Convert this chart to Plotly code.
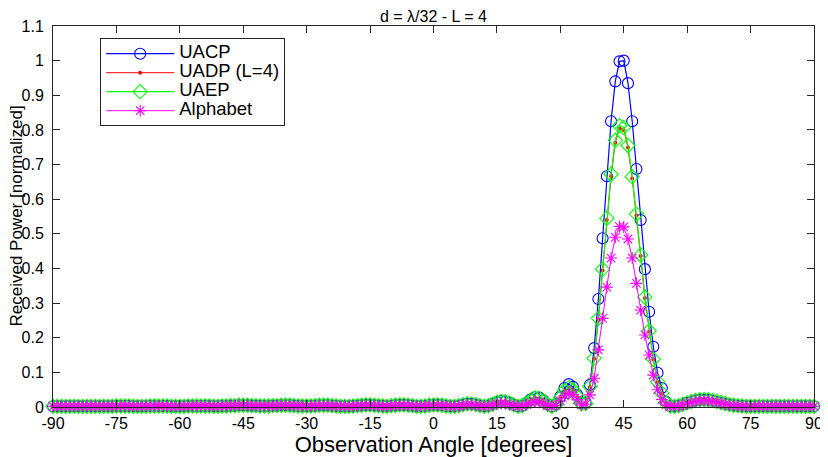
import plotly.graph_objects as go

angles = list(range(-90, 91))

uacp = [
    0.002, 0.002, 0.002, 0.002, 0.002, 0.002, 0.002, 0.002, 0.002, 0.002,  # -90..-81
    0.002, 0.002, 0.002, 0.002, 0.002, 0.003, 0.003, 0.003, 0.003, 0.002,  # -80..-71
    0.002, 0.002, 0.002, 0.003, 0.003, 0.003, 0.003, 0.003, 0.002, 0.002,  # -70..-61
    0.002, 0.002, 0.003, 0.003, 0.003, 0.003, 0.003, 0.003, 0.002, 0.002,  # -60..-51
    0.003, 0.003, 0.004, 0.004, 0.005, 0.005, 0.005, 0.004, 0.004, 0.003,  # -50..-41
    0.003, 0.003, 0.004, 0.004, 0.005, 0.005, 0.005, 0.004, 0.003, 0.003,  # -40..-31
    0.003, 0.003, 0.004, 0.005, 0.005, 0.005, 0.004, 0.003, 0.002, 0.002,  # -30..-21
    0.002, 0.003, 0.004, 0.005, 0.006, 0.006, 0.005, 0.004, 0.003, 0.002,  # -20..-11
    0.004, 0.005, 0.006, 0.006, 0.005, 0.004, 0.002, 0.002, 0.003, 0.005,  # -10..-1
    0.006, 0.006, 0.005, 0.003, 0.002, 0.002, 0.004, 0.007, 0.009, 0.009,  # 0..9
    0.007, 0.004, 0.002, 0.004, 0.009, 0.014, 0.017, 0.016, 0.012, 0.006,  # 10..19
    0.002, 0.004, 0.012, 0.022, 0.028, 0.027, 0.019, 0.008, 0.002, 0.008,  # 20..29
    0.030, 0.055, 0.066, 0.058, 0.035, 0.010, 0.012, 0.064, 0.170, 0.312,  # 30..39
    0.487, 0.666, 0.825, 0.940, 0.998, 1.000, 0.935, 0.825, 0.687, 0.540,  # 40..49
    0.398, 0.275, 0.174, 0.099, 0.055, 0.015, 0.003, 0.002, 0.004, 0.008,  # 50..59
    0.012, 0.016, 0.019, 0.021, 0.021, 0.020, 0.018, 0.015, 0.012, 0.009,  # 60..69
    0.007, 0.005, 0.004, 0.003, 0.002, 0.002, 0.002, 0.002, 0.002, 0.002,  # 70..79
    0.002, 0.002, 0.002, 0.002, 0.002, 0.002, 0.002, 0.002, 0.002, 0.002,  # 80..89
    0.002,                                                                 # 90
]

uadp = [
    0.002, 0.002, 0.002, 0.002, 0.002, 0.002, 0.002, 0.002, 0.002, 0.002,
    0.002, 0.002, 0.002, 0.002, 0.002, 0.003, 0.003, 0.003, 0.003, 0.002,
    0.002, 0.002, 0.002, 0.003, 0.003, 0.003, 0.003, 0.003, 0.002, 0.002,
    0.002, 0.002, 0.003, 0.003, 0.003, 0.003, 0.003, 0.003, 0.002, 0.002,
    0.003, 0.003, 0.004, 0.004, 0.005, 0.005, 0.005, 0.004, 0.004, 0.003,
    0.003, 0.003, 0.004, 0.004, 0.005, 0.005, 0.005, 0.004, 0.003, 0.003,
    0.003, 0.003, 0.004, 0.005, 0.005, 0.005, 0.004, 0.003, 0.002, 0.002,
    0.002, 0.003, 0.004, 0.005, 0.006, 0.006, 0.005, 0.004, 0.003, 0.002,
    0.004, 0.005, 0.006, 0.006, 0.005, 0.004, 0.002, 0.002, 0.003, 0.005,
    0.006, 0.006, 0.005, 0.003, 0.002, 0.002, 0.004, 0.007, 0.009, 0.009,
    0.007, 0.004, 0.002, 0.004, 0.008, 0.013, 0.016, 0.015, 0.011, 0.006,
    0.002, 0.004, 0.011, 0.020, 0.025, 0.024, 0.017, 0.007, 0.002, 0.007,
    0.026, 0.047, 0.055, 0.049, 0.029, 0.008, 0.010, 0.057, 0.139, 0.253,
    0.394, 0.540, 0.666, 0.763, 0.805, 0.800, 0.749, 0.660, 0.553, 0.436,
    0.315, 0.218, 0.137, 0.072, 0.039, 0.011, 0.003, 0.002, 0.004, 0.008,
    0.012, 0.016, 0.019, 0.021, 0.022, 0.021, 0.019, 0.016, 0.013, 0.010,
    0.007, 0.005, 0.004, 0.003, 0.002, 0.002, 0.002, 0.002, 0.002, 0.002,
    0.002, 0.002, 0.002, 0.002, 0.002, 0.002, 0.002, 0.002, 0.002, 0.002,
    0.002,
]

uaep = [
    0.002, 0.002, 0.002, 0.002, 0.002, 0.002, 0.002, 0.002, 0.002, 0.002,
    0.002, 0.002, 0.002, 0.002, 0.002, 0.003, 0.003, 0.003, 0.003, 0.002,
    0.002, 0.002, 0.002, 0.003, 0.003, 0.003, 0.003, 0.003, 0.002, 0.002,
    0.002, 0.002, 0.003, 0.003, 0.003, 0.003, 0.003, 0.003, 0.002, 0.002,
    0.003, 0.003, 0.004, 0.004, 0.005, 0.005, 0.005, 0.004, 0.004, 0.003,
    0.003, 0.003, 0.004, 0.004, 0.005, 0.005, 0.005, 0.004, 0.003, 0.003,
    0.003, 0.003, 0.004, 0.005, 0.005, 0.005, 0.004, 0.003, 0.002, 0.002,
    0.002, 0.003, 0.004, 0.005, 0.006, 0.006, 0.005, 0.004, 0.003, 0.002,
    0.004, 0.005, 0.006, 0.006, 0.005, 0.004, 0.002, 0.002, 0.003, 0.005,
    0.006, 0.006, 0.005, 0.003, 0.002, 0.002, 0.004, 0.007, 0.009, 0.009,
    0.007, 0.004, 0.002, 0.004, 0.008, 0.013, 0.016, 0.015, 0.011, 0.006,
    0.002, 0.004, 0.011, 0.020, 0.026, 0.025, 0.018, 0.007, 0.002, 0.007,
    0.027, 0.048, 0.056, 0.050, 0.030, 0.009, 0.010, 0.059, 0.141, 0.256,
    0.398, 0.545, 0.672, 0.770, 0.812, 0.807, 0.755, 0.665, 0.557, 0.439,
    0.317, 0.220, 0.138, 0.073, 0.040, 0.012, 0.003, 0.002, 0.004, 0.008,
    0.012, 0.016, 0.019, 0.021, 0.022, 0.021, 0.019, 0.016, 0.013, 0.010,
    0.007, 0.005, 0.004, 0.003, 0.002, 0.002, 0.002, 0.002, 0.002, 0.002,
    0.002, 0.002, 0.002, 0.002, 0.002, 0.002, 0.002, 0.002, 0.002, 0.002,
    0.002,
]

alphabet = [
    0.002, 0.002, 0.002, 0.002, 0.002, 0.002, 0.002, 0.002, 0.002, 0.002,
    0.002, 0.002, 0.002, 0.002, 0.002, 0.002, 0.003, 0.003, 0.002, 0.002,
    0.002, 0.002, 0.002, 0.002, 0.003, 0.003, 0.003, 0.002, 0.002, 0.002,
    0.002, 0.002, 0.002, 0.003, 0.003, 0.003, 0.003, 0.002, 0.002, 0.002,
    0.003, 0.003, 0.004, 0.004, 0.005, 0.005, 0.005, 0.004, 0.003, 0.003,
    0.003, 0.003, 0.003, 0.004, 0.004, 0.005, 0.004, 0.004, 0.003, 0.003,
    0.002, 0.003, 0.003, 0.004, 0.004, 0.004, 0.003, 0.003, 0.002, 0.002,
    0.002, 0.002, 0.003, 0.004, 0.005, 0.005, 0.004, 0.003, 0.002, 0.002,
    0.003, 0.004, 0.005, 0.005, 0.004, 0.003, 0.002, 0.002, 0.003, 0.004,
    0.005, 0.005, 0.004, 0.003, 0.002, 0.002, 0.003, 0.005, 0.007, 0.007,
    0.005, 0.003, 0.002, 0.003, 0.006, 0.009, 0.011, 0.010, 0.007, 0.004,
    0.002, 0.003, 0.007, 0.012, 0.015, 0.014, 0.010, 0.004, 0.002, 0.005,
    0.018, 0.032, 0.040, 0.036, 0.021, 0.006, 0.008, 0.035, 0.083, 0.165,
    0.256, 0.346, 0.430, 0.490, 0.521, 0.520, 0.485, 0.430, 0.357, 0.280,
    0.208, 0.150, 0.092, 0.050, 0.022, 0.006, 0.002, 0.002, 0.003, 0.006,
    0.010, 0.013, 0.016, 0.018, 0.019, 0.018, 0.016, 0.014, 0.011, 0.008,
    0.006, 0.004, 0.003, 0.002, 0.002, 0.002, 0.002, 0.002, 0.002, 0.002,
    0.002, 0.002, 0.002, 0.002, 0.002, 0.002, 0.002, 0.002, 0.002, 0.002,
    0.002,
]

series_names = ["UACP", "UADP (L=4)", "UAEP", "Alphabet"]
x_ticks = [-90, -75, -60, -45, -30, -15, 0, 15, 30, 45, 60, 75, 90]
y_ticks = [0, 0.1, 0.2, 0.3, 0.4, 0.5, 0.6, 0.7, 0.8, 0.9, 1, 1.1]
y_ticktext = ["0", "0.1", "0.2", "0.3", "0.4", "0.5", "0.6", "0.7", "0.8", "0.9", "1", "1.1"]

FONT = "Liberation Sans, Arial, Helvetica, sans-serif"


def legend_name(s):
    # larger rendered text while the legend row spacing stays compact
    return '<span style="font-size:18.5px">' + s + "</span>"


fig = go.Figure()
fig.add_trace(go.Scatter(
    x=angles, y=uacp, name=legend_name(series_names[0]), mode="lines+markers", cliponaxis=False,
    line=dict(color="#0000FF", width=1.2),
    marker=dict(symbol="circle-open", size=11, color="#0000FF", line=dict(width=1.1, color="#0000FF")),
))
fig.add_trace(go.Scatter(
    x=angles, y=uadp, name=legend_name(series_names[1]), mode="lines+markers", cliponaxis=False,
    line=dict(color="#FF0000", width=1.0),
    marker=dict(symbol="circle", size=4, color="#FF0000", line=dict(width=0)),
))
fig.add_trace(go.Scatter(
    x=angles, y=uaep, name=legend_name(series_names[2]), mode="lines+markers", cliponaxis=False,
    line=dict(color="#00FF00", width=1.2),
    marker=dict(symbol="diamond-open", size=11, color="#00FF00", line=dict(width=1.1, color="#00FF00")),
))
fig.add_trace(go.Scatter(
    x=angles, y=alphabet, name=legend_name(series_names[3]), mode="lines+markers", cliponaxis=False,
    line=dict(color="#FF00FF", width=1.0),
    marker=dict(symbol="asterisk-open", size=10, color="#FF00FF", line=dict(width=1.1, color="#FF00FF")),
))

axis_common = dict(
    showline=True, linecolor="#262626", linewidth=1, mirror="ticks",
    ticks="inside", ticklen=7, tickcolor="#262626", tickwidth=1,
    showgrid=False, zeroline=False, automargin=False,
    tickfont=dict(family=FONT, size=16, color="#000000"),
)

fig.update_xaxes(
    range=[-90, 90], tickmode="array", tickvals=x_ticks,
    ticktext=[str(v) for v in x_ticks], ticklabelstandoff=2,
    title=dict(text="Observation Angle [degrees]", font=dict(family=FONT, size=22, color="#000000")),
    **axis_common,
)
fig.update_yaxes(
    range=[0, 1.1], tickmode="array", tickvals=y_ticks,
    ticktext=y_ticktext, ticklabelstandoff=5,
    **axis_common,
)

# y-axis title placed as a rotated text so it sits left of the tick labels like the reference
fig.add_annotation(
    text="Received Power [normalized]", textangle=-90,
    xref="paper", yref="paper", x=0, y=0.5, xanchor="center", yanchor="middle",
    xshift=-37, showarrow=False,
    font=dict(family=FONT, size=17, color="#000000"),
)

# page body has an 8px default margin: offset the layout so the plot lands where the reference's does
fig.update_layout(
    width=820, height=449,
    margin=dict(l=45, r=14, t=18, b=50, autoexpand=False),
    plot_bgcolor="white", paper_bgcolor="white",
    font=dict(family=FONT, size=15, color="#000000"),
    title=dict(text="d = λ/32 - L = 4", x=0.5, xref="paper", xanchor="center",
               y=1 - 8 / 449, yref="container", yanchor="middle",
               font=dict(family=FONT, size=16, color="#000000")),
    showlegend=True,
    legend=dict(x=0.062, y=0.968, xanchor="left", yanchor="top",
                bgcolor="white", bordercolor="#262626", borderwidth=1,
                font=dict(family=FONT, size=10.5, color="#000000"),
                tracegroupgap=0, itemwidth=68),
)

fig.write_html("out.html")
